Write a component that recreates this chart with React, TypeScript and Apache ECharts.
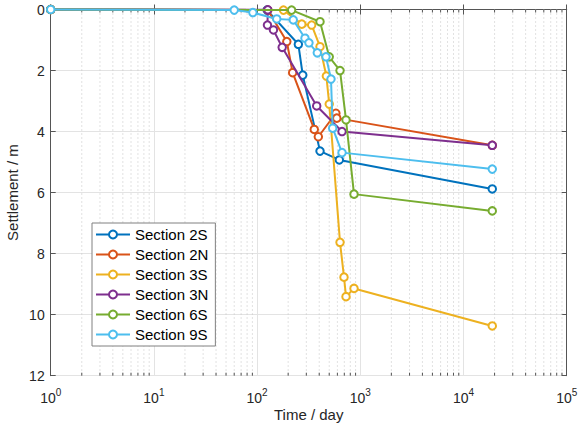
import React, { useEffect, useRef } from "react";
import * as echarts from "echarts";

// Settlement records for each section (time in days, settlement in metres)
const sectionNames = ["Section 2S", "Section 2N", "Section 3S", "Section 3N", "Section 6S", "Section 9S"];
const sectionColors = ["#0072BD", "#D95319", "#EDB120", "#7E2F8E", "#77AC30", "#4DBEEE"];

const days2S = [1, 125, 251, 277, 407, 626, 19000];
const settle2S = [0, 0.02, 1.14, 2.15, 4.64, 4.93, 5.88];

const days2N = [1, 127, 194, 221, 358, 392, 580, 592, 19000];
const settle2N = [0, 0.02, 1.05, 2.07, 3.93, 4.17, 3.4, 3.56, 4.45];

const days3S = [1, 180, 271, 338, 407, 469, 500, 636, 695, 727, 869, 19000];
const settle3S = [0, 0.02, 0.48, 0.51, 1.22, 2.18, 3.1, 7.63, 8.77, 9.41, 9.14, 10.37];

const days3N = [1, 127, 126, 144, 175, 378, 665, 19000];
const settle3N = [0, 0.01, 0.51, 0.67, 1.24, 3.16, 4.0, 4.45];

const days6S = [1, 216, 407, 500, 636, 727, 869, 19000];
const settle6S = [0, 0.02, 0.4, 1.55, 2.0, 3.62, 6.05, 6.6];

const days9S = [1, 60, 91, 155, 224, 291, 318, 383, 465, 520, 540, 665, 19000];
const settle9S = [0, 0.02, 0.1, 0.31, 0.34, 0.94, 1.09, 1.42, 1.55, 2.28, 3.89, 4.69, 5.23];

const sectionDays = [days2S, days2N, days3S, days3N, days6S, days9S];
const sectionSettle = [settle2S, settle2N, settle3S, settle3N, settle6S, settle9S];

// Axis layout
const xMin = 1;
const xMax = 100000;
const yMin = 0;
const yMax = 12;
const yStep = 2;
const decades = [1, 10, 100, 1000, 10000];
const minorSteps = [2, 3, 4, 5, 6, 7, 8, 9];

const FONT = "'Liberation Sans', Arial, Helvetica, sans-serif";
const AXIS_COLOR = "#555555";
const TEXT_COLOR = "#262626";

export default function App() {
  const ref = useRef<HTMLDivElement>(null);

  useEffect(() => {
    document.body.style.margin = "0";
    if (!ref.current) return;
    const chart = echarts.init(ref.current, undefined, { renderer: "svg" });

    const minorValues: number[][] = [];
    decades.forEach((d) => minorSteps.forEach((m) => minorValues.push([d * m, 0])));

    const lineSeries = sectionNames.map((name, k) => ({
      name,
      type: "line",
      xAxisIndex: 0,
      yAxisIndex: 0,
      data: sectionDays[k].map((d, i) => [d, sectionSettle[k][i]]),
      symbol: "emptyCircle",
      symbolSize: 7.5,
      clip: false,
      z: 3 + k,
      lineStyle: { color: sectionColors[k], width: 2 },
      itemStyle: { color: sectionColors[k], borderWidth: 1.6 },
      emphasis: { disabled: true },
    }));

    const option: any = {
      animation: false,
      textStyle: { fontFamily: FONT },
      grid: {
        left: 50.7,
        top: 9.5,
        width: 516,
        height: 366.2,
        containLabel: false,
        outerBoundsMode: "none",
      },
      legend: {
        data: sectionNames,
        orient: "vertical",
        left: 92,
        top: 223,
        padding: [4, 7, 4, 3],
        itemGap: 5,
        itemWidth: 34,
        itemHeight: 10,
        backgroundColor: "#ffffff",
        borderColor: "#808080",
        borderWidth: 1,
        borderRadius: 0,
        selectedMode: false,
        textStyle: { fontSize: 15, color: "#000000", fontFamily: FONT, lineHeight: 14 },
      },
      xAxis: [
        {
          type: "log",
          logBase: 10,
          min: xMin,
          max: xMax,
          interval: 1,
          position: "bottom",
          name: "Time / day",
          nameLocation: "middle",
          nameGap: 31,
          nameMoveOverlap: false,
          nameTextStyle: { fontSize: 15, color: TEXT_COLOR, fontFamily: FONT },
          axisLine: { show: true, lineStyle: { color: AXIS_COLOR, width: 1 } },
          axisTick: { show: true, inside: true, length: 5, lineStyle: { color: AXIS_COLOR } },
          axisLabel: {
            margin: 14,
            formatter: (v: number) => `{b|10}{s|${Math.round(Math.log10(v))}}`,
            rich: {
              b: { fontSize: 14, lineHeight: 16, color: TEXT_COLOR, fontFamily: FONT },
              s: { fontSize: 10, lineHeight: 10, padding: [0, 0, 10, 0], color: TEXT_COLOR, fontFamily: FONT },
            },
          },
          splitLine: { show: true, lineStyle: { color: "#e3e3e3", width: 1 } },
        },
        {
          type: "log",
          logBase: 10,
          min: xMin,
          max: xMax,
          interval: 1,
          position: "top",
          axisLine: { show: true, lineStyle: { color: AXIS_COLOR, width: 1 } },
          axisTick: { show: true, inside: true, length: 5, lineStyle: { color: AXIS_COLOR } },
          axisLabel: { show: false },
          splitLine: { show: false },
        },
      ],
      yAxis: [
        {
          type: "value",
          inverse: true,
          min: yMin,
          max: yMax,
          interval: yStep,
          position: "left",
          name: "Settlement / m",
          nameLocation: "middle",
          nameGap: 31,
          nameMoveOverlap: false,
          nameTextStyle: { fontSize: 15, color: TEXT_COLOR, fontFamily: FONT },
          axisLine: { show: true, lineStyle: { color: AXIS_COLOR, width: 1 } },
          axisTick: { show: true, inside: true, length: 5, lineStyle: { color: AXIS_COLOR } },
          axisLabel: { margin: 6, fontSize: 14, color: TEXT_COLOR, fontFamily: FONT },
          splitLine: { show: true, lineStyle: { color: "#e3e3e3", width: 1 } },
        },
        {
          type: "value",
          inverse: true,
          min: yMin,
          max: yMax,
          interval: yStep,
          position: "right",
          axisLine: { show: true, lineStyle: { color: AXIS_COLOR, width: 1 } },
          axisTick: { show: true, inside: true, length: 5, lineStyle: { color: AXIS_COLOR } },
          axisLabel: { show: false },
          splitLine: { show: false },
        },
      ],
      series: [
        {
          // dotted minor grid lines and minor ticks of the log axis
          type: "custom",
          xAxisIndex: 0,
          yAxisIndex: 0,
          silent: true,
          z: 1,
          data: minorValues,
          renderItem: (_params: any, api: any) => {
            const v = api.value(0);
            const top = api.coord([v, yMin]);
            const bot = api.coord([v, yMax]);
            return {
              type: "group",
              children: [
                {
                  type: "line",
                  shape: { x1: top[0], y1: top[1], x2: bot[0], y2: bot[1] },
                  style: { stroke: "#c4c4c4", lineWidth: 1, lineDash: [1, 3] },
                },
                {
                  type: "line",
                  shape: { x1: bot[0], y1: bot[1], x2: bot[0], y2: bot[1] - 3 },
                  style: { stroke: AXIS_COLOR, lineWidth: 1 },
                },
                {
                  type: "line",
                  shape: { x1: top[0], y1: top[1], x2: top[0], y2: top[1] + 3 },
                  style: { stroke: AXIS_COLOR, lineWidth: 1 },
                },
              ],
            };
          },
        },
        ...lineSeries,
      ],
    };

    chart.setOption(option);
    return () => chart.dispose();
  }, []);

  return (
    <div
      ref={ref}
      style={{ position: "fixed", left: 0, top: 0, width: 580, height: 427, background: "#ffffff" }}
    />
  );
}
